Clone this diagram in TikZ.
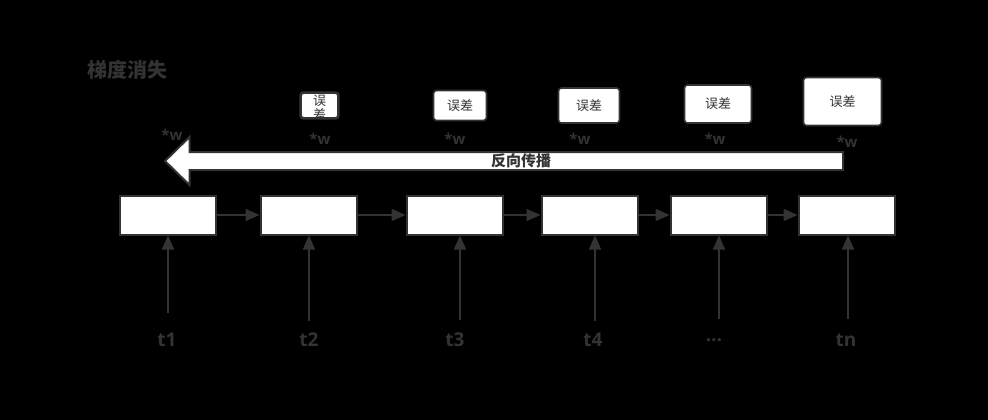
\documentclass[tikz,border=0pt]{standalone}
\usepackage{fontspec}
\setmainfont{Open Sans}
\newfontfamily\cjk{Noto Sans CJK SC}
\usetikzlibrary{arrows.meta}
\definecolor{ink}{HTML}{333333}
\tikzset{
  cell/.style={draw=ink, line width=2pt, fill=white, minimum width=96pt, minimum height=39pt, inner sep=0pt},
  errbox/.style={draw=ink, line width=1.6pt, fill=white, rounded corners=3pt, inner sep=0pt, font=\cjk\fontsize{13}{14}\selectfont, text=ink},
  link/.style={draw=ink, line width=1.5pt, -{Triangle[length=14pt,width=12pt]}},
  tlab/.style={font=\bfseries\fontsize{19}{20}\selectfont, text=ink},
  wlab/.style={font=\bfseries\fontsize{15}{16}\selectfont, text=ink},
}
\begin{document}
\begin{tikzpicture}[x=1pt,y=-1pt]
\useasboundingbox[fill=black] (0,0) rectangle (988,420);
% title
\node[font=\cjk\bfseries\fontsize{20}{22}\selectfont, text=ink, anchor=west, inner sep=0pt] (title) at (87,70) {梯度消失};
% main cells
\node[cell] (b1) at (167.5,215) {};
\node[cell] (b2) at (308.5,215) {};
\node[cell] (b3) at (454.5,215) {};
\node[cell] (b4) at (589.5,215) {};
\node[cell] (b5) at (718.5,215) {};
\node[cell] (b6) at (846.5,215) {};
\draw[link] (b1) -- (b2);
\draw[link] (b2) -- (b3);
\draw[link] (b3) -- (b4);
\draw[link] (b4) -- (b5);
\draw[link] (b5) -- (b6);
% inputs
\node[tlab] (l1) at (167,340) {t1};
\node[tlab] (l2) at (309,340) {t2};
\node[tlab] (l3) at (455,340) {t3};
\node[tlab] (l4) at (593,340) {t4};
\node[tlab] (l5) at (714,340) {…};
\node[tlab] (l6) at (846,340) {tn};
\coordinate (s1) at (168,313);
\coordinate (s2) at (309,321);
\coordinate (s3) at (460,320);
\coordinate (s4) at (595,321);
\coordinate (s5) at (719,319);
\coordinate (s6) at (848,319);
\draw[link] (s1) -- (s1 |- b1.south);
\draw[link] (s2) -- (s2 |- b2.south);
\draw[link] (s3) -- (s3 |- b3.south);
\draw[link] (s4) -- (s4 |- b4.south);
\draw[link] (s5) -- (s5 |- b5.south);
\draw[link] (s6) -- (s6 |- b6.south);
% backprop arrow
\draw[draw=ink, line width=2pt, fill=white, line join=miter]
  (843,152) -- (189.5,152) -- (189.5,137) -- (165,161) -- (189.5,185) -- (189.5,170) -- (843,170) -- cycle;
\node[font=\cjk\bfseries\fontsize{15}{16}\selectfont, text=ink] (bp) at (521,161) {反向传播};
% error boxes
\node[errbox, minimum width=37pt, minimum height=25pt] (e1) at (319.5,105.5) {};
\begin{scope}
\clip[rounded corners=3pt] (e1.south west) rectangle (e1.north east);
\node[font=\cjk\fontsize{13}{14}\selectfont, text=ink, align=center, inner sep=0pt] (e1t) at (319.5,107) {误\\差};
\end{scope}
\draw[draw=ink, line width=1.6pt, rounded corners=3pt] (e1.south west) rectangle (e1.north east);
\node[errbox, minimum width=53pt, minimum height=30pt] (e2) at (460,105.5) {误差};
\node[errbox, minimum width=61pt, minimum height=35pt] (e3) at (589,105.5) {误差};
\node[errbox, minimum width=67pt, minimum height=38pt] (e4) at (718,104) {误差};
\node[errbox, minimum width=78pt, minimum height=48pt] (e5) at (842.5,101.5) {误差};
% *w labels
\node[wlab] (w1) at (172,135) {*w};
\node[wlab] (w2) at (320,138.5) {*w};
\node[wlab] (w3) at (455,138.5) {*w};
\node[wlab] (w4) at (580,138.5) {*w};
\node[wlab] (w5) at (715,138.5) {*w};
\node[wlab] (w6) at (847,141.5) {*w};
\end{tikzpicture}
\end{document}
